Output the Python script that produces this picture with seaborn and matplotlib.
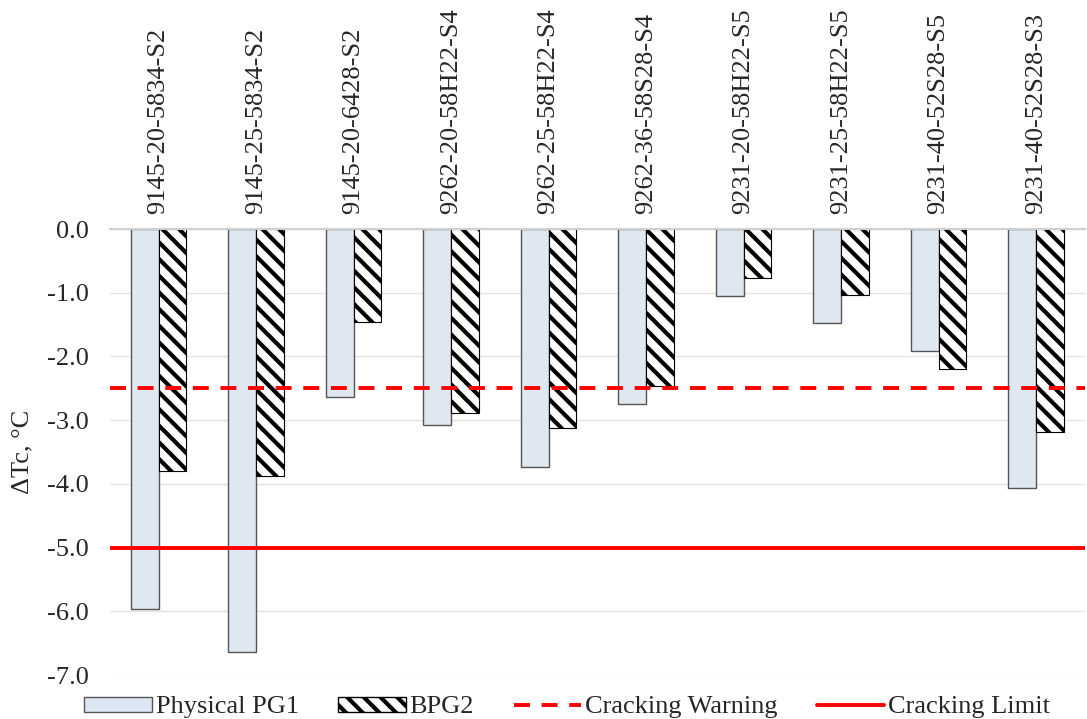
import matplotlib
matplotlib.use("Agg")
import matplotlib.pyplot as plt
from matplotlib.patches import Patch
from matplotlib.ticker import FormatStrFormatter, MultipleLocator
import pandas as pd
import seaborn as sns

# Binder samples and their critical temperature differences (°C)
samples = [
    "9145-20-5834-S2", "9145-25-5834-S2", "9145-20-6428-S2",
    "9262-20-58H22-S4", "9262-25-58H22-S4", "9262-36-58S28-S4",
    "9231-20-58H22-S5", "9231-25-58H22-S5", "9231-40-52S28-S5",
    "9231-40-52S28-S3",
]
physical_pg1 = [-5.97, -6.64, -2.64, -3.08, -3.73, -2.74, -1.05, -1.48, -1.92, -4.07]
bpg2 = [-3.80, -3.88, -1.46, -2.88, -3.13, -2.47, -0.77, -1.04, -2.19, -3.19]
series_names = ["Physical PG1", "BPG2"]
warning_level = -2.5
limit_level = -5.0

df = pd.DataFrame({
    "sample": samples * 2,
    "dtc": physical_pg1 + bpg2,
    "series": [series_names[0]] * len(samples) + [series_names[1]] * len(samples),
})

sns.set_theme(style="white")
plt.rcParams["font.family"] = ["Liberation Serif", "DejaVu Serif"]
plt.rcParams["axes.unicode_minus"] = False
plt.rcParams["hatch.linewidth"] = 3.0

FS = 19

fig = plt.figure(figsize=(10.87, 7.19), dpi=100)
ax = fig.add_axes([0.101, 0.061, 0.897, 0.6205])

pg1_color = "#DCE7F3"
sns.barplot(
    data=df, x="sample", y="dtc", hue="series", order=samples,
    hue_order=series_names, palette=[pg1_color, "white"],
    width=0.57, gap=0, edgecolor="#555555", linewidth=1.0,
    legend=False, ax=ax,
)
for bar in ax.containers[1]:
    bar.set_hatch("\\\\")
    bar.set_edgecolor("black")
    bar.set_linewidth(0.8)

warn = ax.axhline(warning_level, color="#FF0000", lw=2.8, ls=(0, (4.1, 3.0)),
                  zorder=4, label="Cracking Warning")
lim = ax.axhline(limit_level, color="#FF0000", lw=2.8, zorder=4,
                 label="Cracking Limit")

ax.set_ylim(-7.0, 0.0)
ax.set_xlim(-0.5, len(samples) - 0.5)
ax.yaxis.set_major_locator(MultipleLocator(1.0))
ax.yaxis.set_major_formatter(FormatStrFormatter("%.1f"))
ax.grid(axis="y", color="#E3E3E3", lw=1.0)
ax.set_axisbelow(True)
for side in ["left", "right", "bottom"]:
    ax.spines[side].set_visible(False)
ax.spines["top"].set_color("#D0D0D0")
ax.spines["top"].set_linewidth(1.5)

ax.xaxis.tick_top()
ax.xaxis.set_label_position("top")
ax.set_xlabel("")
ax.tick_params(axis="x", length=0, pad=11, labelsize=FS, rotation=90)
ax.tick_params(axis="y", length=0, pad=15, labelsize=FS)
ax.set_ylabel("ΔTc, °C", fontsize=FS)
ax.yaxis.set_label_coords(-0.078, 0.5)

handles = [
    Patch(facecolor=pg1_color, edgecolor="#555555", label=series_names[0]),
    Patch(facecolor="white", edgecolor="black", hatch="\\\\", label=series_names[1]),
    warn, lim,
]
fig.legend(handles=handles, loc="center", bbox_to_anchor=(0.522, 0.016),
           ncol=4, frameon=False, fontsize=FS, handlelength=2.55,
           handleheight=0.5, columnspacing=1.5, handletextpad=0.15,
           borderaxespad=0, borderpad=0)

fig.savefig("out.png", dpi=100)
